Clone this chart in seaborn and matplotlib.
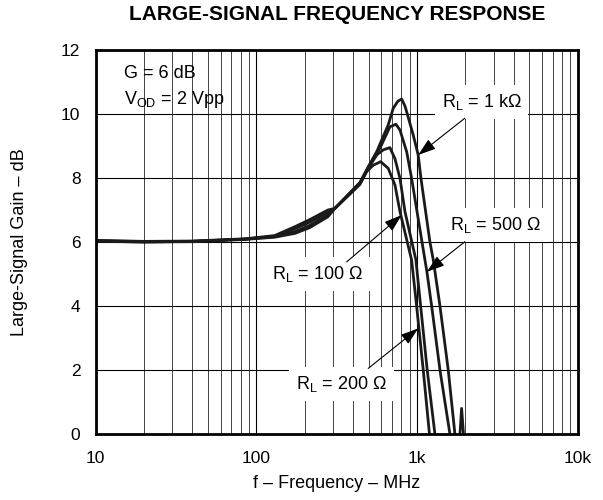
import numpy as np
import pandas as pd
import matplotlib
matplotlib.use("Agg")
import matplotlib.pyplot as plt
import seaborn as sns
from matplotlib.ticker import FixedLocator, LogLocator, NullFormatter, FixedFormatter

# ---- data ----
f_100 = [10, 20, 40, 85, 130, 174, 215, 279, 308, 382, 441, 486, 534, 594, 662, 729, 783, 925, 994, 1093, 1195, 1300]
g_100 = [6.05, 6.02, 6.03, 6.10, 6.20, 6.48, 6.70, 7.00, 7.05, 7.50, 7.80, 8.20, 8.40, 8.51, 8.30, 7.78, 6.95, 5.44, 4.00, 2.00, 0.00, -1.0]

f_200 = [10, 20, 40, 85, 130, 174, 215, 279, 308, 382, 441, 486, 561, 616, 678, 729, 783, 841, 984, 1053, 1157, 1292, 1400]
g_200 = [6.04, 6.01, 6.02, 6.09, 6.18, 6.42, 6.62, 6.93, 7.05, 7.50, 7.82, 8.22, 8.72, 8.88, 8.95, 8.60, 7.99, 6.95, 5.44, 4.00, 2.00, 0.00, -1.0]

f_500 = [10, 20, 40, 85, 130, 174, 215, 279, 308, 382, 441, 486, 561, 588, 678, 739, 783, 862, 925, 1120, 1152, 1233, 1389, 1602, 1680]
g_500 = [6.03, 6.00, 6.02, 6.09, 6.17, 6.33, 6.52, 6.85, 7.05, 7.52, 7.84, 8.24, 8.80, 8.93, 9.60, 9.68, 9.50, 8.82, 7.99, 5.44, 5.07, 4.00, 2.00, 0.00, -1.0]

f_1k = [10, 20, 40, 85, 130, 174, 215, 279, 308, 382, 441, 486, 561, 616, 662, 711, 760, 802, 841, 862, 947, 1017, 1057, 1203, 1262, 1389, 1564, 1721, 1797, 1894, 2015]
g_1k = [6.02, 6.00, 6.01, 6.08, 6.15, 6.27, 6.45, 6.79, 7.05, 7.54, 7.86, 8.26, 8.82, 9.30, 9.66, 10.18, 10.40, 10.47, 10.25, 10.07, 9.34, 8.72, 8.00, 6.00, 5.44, 4.00, 2.00, 0.00, -1.0, 0.80, -1.0]

series_names = ["100", "200", "500", "1k"]
x_ticks = [10, 100, 1000, 10000]
x_ticklabels = ["10", "100", "1k", "10k"]
y_ticks = [0, 2, 4, 6, 8, 10, 12]

frames = []
for name, fx, gy in zip(series_names, [f_100, f_200, f_500, f_1k], [g_100, g_200, g_500, g_1k]):
    frames.append(pd.DataFrame({"freq": fx, "gain": gy, "RL": name}))
df = pd.concat(frames, ignore_index=True)

# ---- style ----
sns.set_theme(style="white")
plt.rcParams["font.family"] = ["Liberation Sans", "DejaVu Sans"]
plt.rcParams["mathtext.default"] = "regular"

fig = plt.figure(figsize=(6.03, 5.00), dpi=100)
ax = fig.add_axes([95.7 / 603, 66 / 500, (577.7 - 95.7) / 603, (434 - 50) / 500])

sns.lineplot(data=df, x="freq", y="gain", hue="RL", palette=["#1a1a1a"] * 4,
             linewidth=2.0, legend=False, ax=ax, sort=False, estimator=None)

ax.set_xscale("log")
ax.set_xlim(10, 10000)
ax.set_ylim(0, 12)
ax.xaxis.set_major_locator(FixedLocator(x_ticks))
ax.xaxis.set_major_formatter(FixedFormatter(x_ticklabels))
ax.xaxis.set_minor_locator(LogLocator(base=10, subs=range(2, 10)))
ax.xaxis.set_minor_formatter(NullFormatter())
ax.yaxis.set_major_locator(FixedLocator(y_ticks))

ax.grid(which="major", color="black", linewidth=0.8)
ax.grid(which="minor", axis="x", color="#444444", linewidth=0.7)
ax.set_axisbelow(True)
ax.tick_params(which="both", length=0, labelsize=12.5, colors="black")
ax.tick_params(axis="x", pad=12)
ax.tick_params(axis="y", pad=11)
for s in ax.spines.values():
    s.set_color("black")
    s.set_linewidth(2.0)

ax.set_xlabel("f – Frequency – MHz", fontsize=13, labelpad=7, color="black")
ax.set_ylabel("Large-Signal Gain – dB", fontsize=13, labelpad=24, color="black")
fig.text(336.7 / 603, 1 - 14 / 500, "LARGE-SIGNAL FREQUENCY RESPONSE", ha="center", va="center",
         fontsize=15, fontweight="bold", color="black")

ax.text(15.1, 11.25, "G = 6 dB", fontsize=13, va="center", ha="left", color="black")
ax.text(15.1, 10.45, "$V_{OD}$ = 2 Vpp", fontsize=13, va="center", ha="left", color="black")

arrow = dict(arrowstyle="-|>,head_length=0.9,head_width=0.3", color="black", lw=0.8,
             mutation_scale=12, shrinkA=0, shrinkB=0)
box = dict(facecolor="white", edgecolor="none", pad=5)

labels = [
    ("$R_L$ = 1 kΩ", 1422, 10.375, (1986, 9.87), (1017, 8.72)),
    ("$R_L$ = 500 Ω", 1602, 6.53, (1986, 6.01), (1152, 5.07)),
    ("$R_L$ = 100 Ω", 125, 5.0, (365, 5.38), (802, 6.84)),
    ("$R_L$ = 200 Ω", 176, 1.56, (497, 2.05), (1017, 3.30)),
]
for txt, tx, ty, start, tip in labels:
    ax.annotate("", xy=tip, xytext=start, arrowprops=arrow, zorder=5)
    ax.text(tx, ty, txt, fontsize=13, va="center", ha="left", color="black", bbox=box, zorder=4)

fig.savefig("out.png", dpi=100)
